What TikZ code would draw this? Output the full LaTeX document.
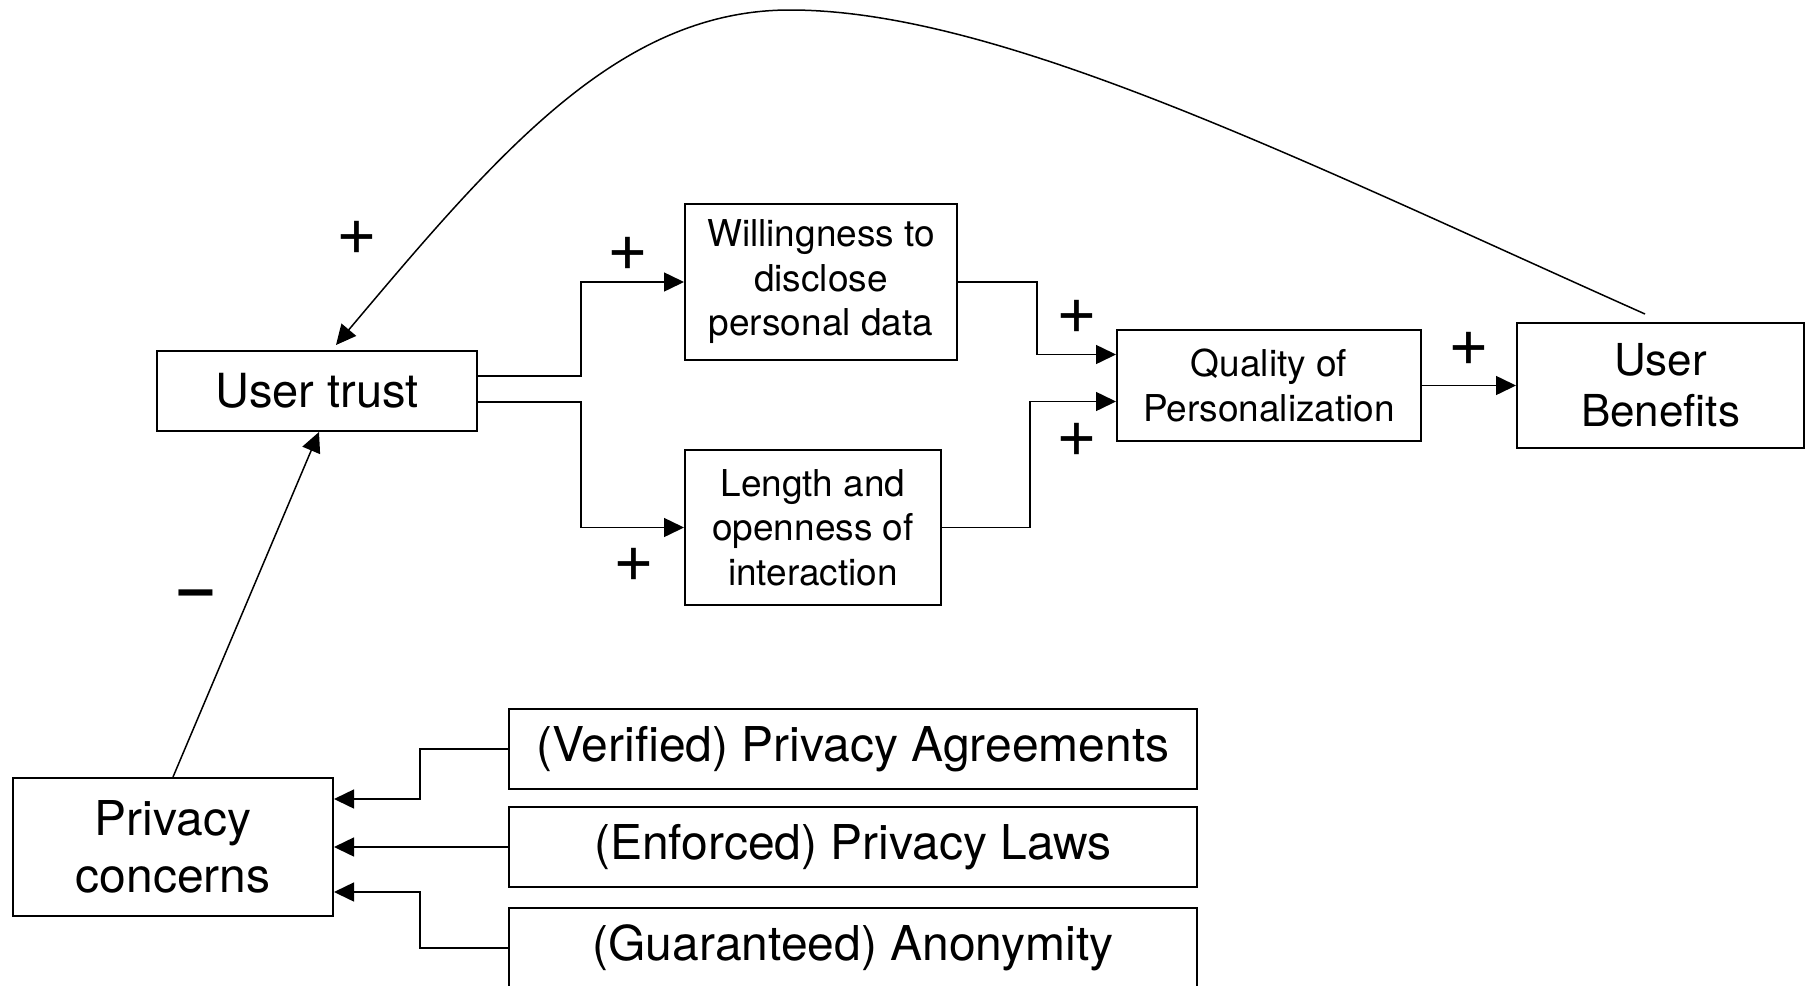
\documentclass[tikz,border=0pt]{standalone}
\usepackage{fontspec}
\setmainfont{TeX Gyre Heros}
\usetikzlibrary{arrows.meta}
\begin{document}
\begin{tikzpicture}[x=1pt,y=-1pt,
 box/.style={draw,line width=2pt,inner sep=0pt,align=center},
 big/.style={font=\fontsize{48}{57}\selectfont},
 small/.style={font=\fontsize{37}{44.5}\selectfont},
 conn/.style={line width=1.5pt,-{Triangle[length=20pt,width=19pt]}},
 sign/.style={font=\fontsize{70}{70}\selectfont,inner sep=0pt}]
\useasboundingbox (0,0) rectangle (1811,985);
\node[box,font=\fontsize{47}{57}\selectfont,minimum width=320pt,minimum height=80pt] (ut) at (317,391) {User trust};
\node[box,small,minimum width=272pt,minimum height=156pt] (will) at (821,282) {Willingness to\\disclose\\personal data};
\node[box,small,minimum width=256pt,minimum height=155pt] (len) at (813,527.5) {Length and\\openness of\\interaction};
\node[box,small,minimum width=304pt,minimum height=111pt] (qual) at (1269,385.5) {Quality of\\Personalization};
\node[box,font=\fontsize{44}{51}\selectfont,minimum width=287pt,minimum height=125pt] (ben) at (1660.5,385.5) {User\\Benefits};
\node[box,big,minimum width=320pt,minimum height=138pt] (pc) at (173,847) {Privacy\\concerns};
\node[box,big,minimum width=688pt,minimum height=80pt] (ver) at (853,749) {(Verified) Privacy Agreements};
\node[box,big,minimum width=688pt,minimum height=80pt] (enf) at (853,847) {(Enforced) Privacy Laws};
\node[box,big,minimum width=688pt,minimum height=80pt] (gua) at (853,948) {(Guaranteed) Anonymity};

\draw[conn] ([yshift=15pt]ut.east) -- ++(103,0) |- (will.west);
\draw[conn] ([yshift=-11pt]ut.east) -- ++(103,0) |- (len.west);
\draw[conn] (will.east) -- ++(79,0) |- ([yshift=31pt]qual.west);
\draw[conn] (len.east) -- ++(88,0) |- ([yshift=-16pt]qual.west);
\draw[conn] (qual.east) -- (ben.west);
\draw[conn] (ver.west) -- ++(-88,0) |- ([yshift=48pt]pc.east);
\draw[conn] (enf.west) -- (pc.east);
\draw[conn] (gua.west) -- ++(-88,0) |- ([yshift=-45pt]pc.east);
\draw[conn] (pc.north) -- ([xshift=2pt]ut.south);
\coordinate (cs) at (1645,314);
\draw[conn] (cs) .. controls (1300,160) and (1000,10) .. (790,10) .. controls (620,10) and (500,150) .. ([xshift=19pt,yshift=5pt]ut.north);

\node[sign] (s1) at (357,238) {+};
\node[sign] (s2) at (628,254) {+};
\node[sign] (s3) at (634,565) {+};
\node[sign] (s4) at (1077,317) {+};
\node[sign] (s5) at (1077,440) {+};
\node[sign] (s6) at (1469,349) {+};
\node[sign,font=\bfseries\fontsize{60}{60}\selectfont] (s7) at (196,599) {–};
\end{tikzpicture}
\end{document}
